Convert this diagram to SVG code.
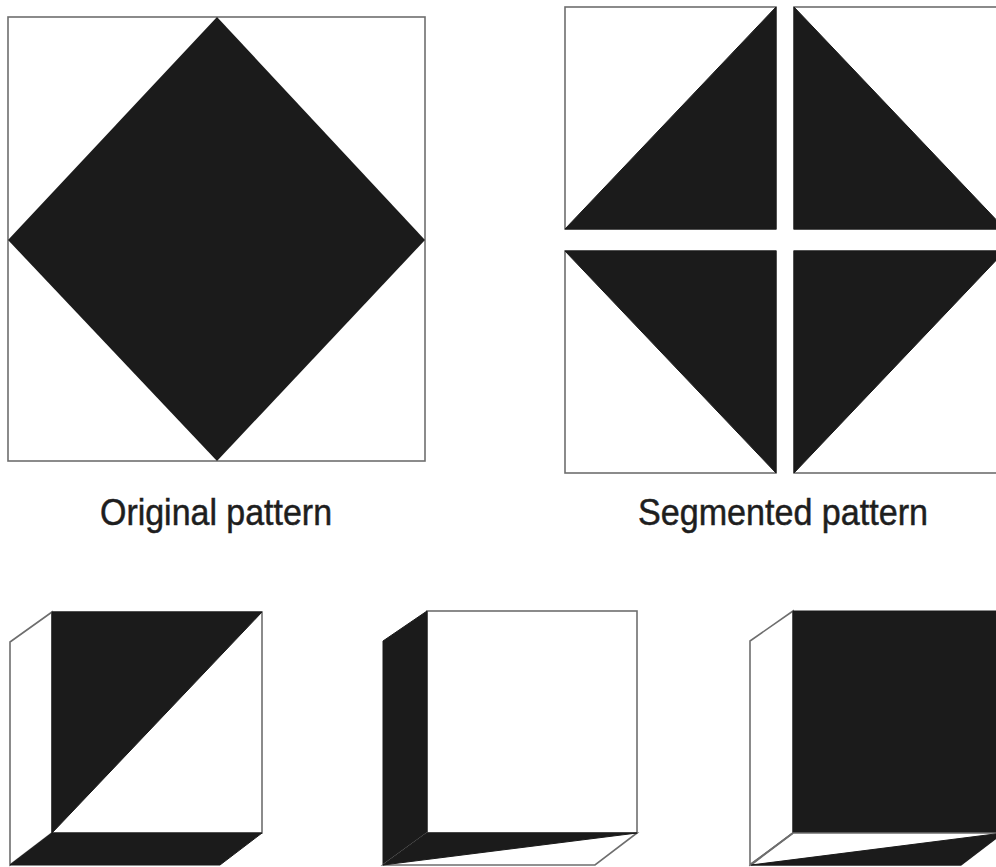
<svg xmlns="http://www.w3.org/2000/svg" width="996" height="867" viewBox="0 0 996 867">
  <style>
    .frame { fill: #ffffff; stroke: #6e6e6e; stroke-width: 1.6; }
    .ink { fill: #1b1b1b; }
    .inkline { fill: #1b1b1b; stroke: #1b1b1b; stroke-width: 1; stroke-linejoin: round; }
    .edge { fill: none; stroke: #6e6e6e; stroke-width: 1.6; stroke-linejoin: round; }
    .label { font-family: "Liberation Sans", Arial, Helvetica, sans-serif; font-size: 37px; fill: #1e1e1e; stroke: #1e1e1e; stroke-width: 0.5; text-anchor: middle; }
  </style>
  <rect width="996" height="867" fill="#ffffff"/>

  <!-- Original pattern: square with inscribed diamond -->
  <g id="original">
    <rect class="frame" x="8" y="17" width="417" height="444"/>
    <polygon class="ink" points="217,17 425,240 217,461 8,240"/>
    <text class="label" x="216" y="525" textLength="232" lengthAdjust="spacingAndGlyphs">Original pattern</text>
  </g>

  <!-- Segmented pattern: four separated quarter tiles -->
  <g id="segmented">
    <g id="seg-tl">
      <rect class="frame" x="565" y="7" width="211" height="222"/>
      <polygon class="inkline" points="565,229 776,7 776,229"/>
    </g>
    <g id="seg-tr">
      <rect class="frame" x="794" y="7" width="211" height="222"/>
      <polygon class="inkline" points="794,7 794,229 1005,229"/>
    </g>
    <g id="seg-bl">
      <rect class="frame" x="565" y="251" width="211" height="222"/>
      <polygon class="inkline" points="565,251 776,251 776,473"/>
    </g>
    <g id="seg-br">
      <rect class="frame" x="794" y="251" width="211" height="222"/>
      <polygon class="inkline" points="794,251 1005,251 794,473"/>
    </g>
    <text class="label" x="783" y="525" textLength="290" lengthAdjust="spacingAndGlyphs">Segmented pattern</text>
  </g>

  <!-- Cube 1: diagonal front, white side, black base -->
  <g id="cube-1">
    <polygon class="frame" points="52,612 10,642 10,865 52,833"/>
    <rect class="frame" x="52" y="612" width="210" height="221"/>
    <polygon class="inkline" points="52,612 262,612 52,833"/>
    <polygon class="inkline" points="52,833 262,833 220,865 10,865"/>
  </g>

  <!-- Cube 2: white front, black side, split base -->
  <g id="cube-2">
    <rect class="frame" x="427" y="611" width="210" height="222"/>
    <polygon class="inkline" points="427,611 383,641 383,865 427,833"/>
    <polygon class="frame" points="427,833 637,833 595,865 383,865"/>
    <polygon class="inkline" points="427,833 637,833 383,865"/>
  </g>

  <!-- Cube 3: black front, white side, split base -->
  <g id="cube-3">
    <polygon class="frame" points="793,611 750,641 750,865 793,833"/>
    <rect class="inkline" x="793" y="611" width="210" height="222"/>
    <polygon class="frame" points="793,833 1003,833 961,865 751,865"/>
    <polygon class="inkline" points="995,834 1003,833 961,865 751,865"/>
    <line class="edge" x1="793" y1="833" x2="751" y2="864"/>
  </g>
</svg>
